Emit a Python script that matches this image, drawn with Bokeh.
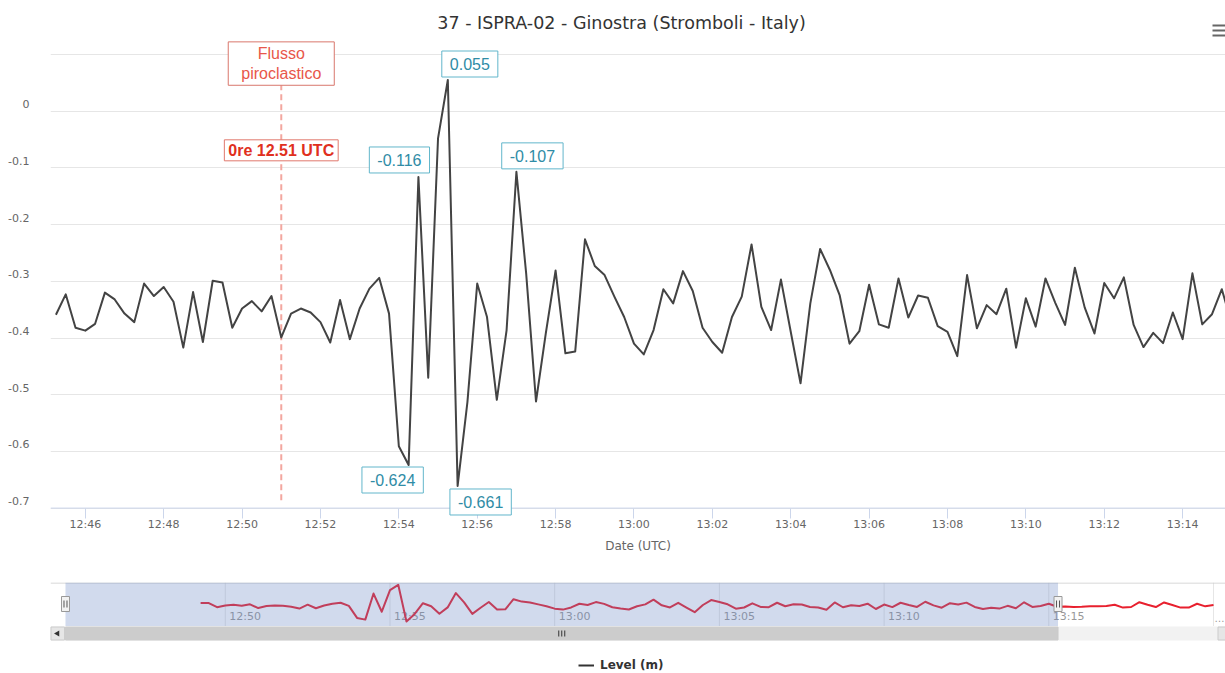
import math
import pandas as pd
from bokeh.plotting import figure
from bokeh.layouts import column
from bokeh.models import (Range1d, LinearAxis, FixedTicker, DatetimeTickFormatter,
                          Label, BoxAnnotation, Legend, LegendItem, Span)
from bokeh.core.properties import value
from bokeh.embed import file_html
from bokeh.resources import INLINE

# ---------------- data ----------------
DAY = "2022-10-09"
series_start = "12:45:15"
step_seconds = 15
level_m = [
    -0.359, -0.323, -0.382, -0.387, -0.375, -0.320, -0.332, -0.357, -0.372, -0.304,
    -0.326, -0.310, -0.336, -0.417, -0.319, -0.407, -0.299, -0.302, -0.382, -0.348,
    -0.335, -0.353, -0.326, -0.399, -0.357, -0.348, -0.355, -0.372, -0.408, -0.333,
    -0.402, -0.348, -0.313, -0.294, -0.357, -0.591, -0.624, -0.116, -0.470, -0.048,
    0.055, -0.661, -0.513, -0.304, -0.363, -0.509, -0.386, -0.107, -0.287, -0.512,
    -0.392, -0.281, -0.427, -0.424, -0.226, -0.273, -0.289, -0.327, -0.363, -0.410,
    -0.429, -0.386, -0.314, -0.339, -0.282, -0.317, -0.382, -0.407, -0.426, -0.363,
    -0.327, -0.235, -0.345, -0.386, -0.297, -0.389, -0.480, -0.339, -0.243, -0.280,
    -0.325, -0.410, -0.388, -0.306, -0.376, -0.382, -0.295, -0.364, -0.325, -0.329,
    -0.379, -0.389, -0.432, -0.289, -0.383, -0.342, -0.358, -0.313, -0.417, -0.330,
    -0.380, -0.295, -0.338, -0.377, -0.276, -0.346, -0.392, -0.303, -0.330, -0.293,
    -0.377, -0.416, -0.391, -0.409, -0.355, -0.402, -0.286, -0.376, -0.358, -0.314,
    -0.374,
]
nav_series_start = "12:49:15"
nav_extra_level_m = [
    -0.370, -0.378, -0.375, -0.365, -0.365, -0.359, -0.334, -0.390, -0.378, -0.285,
    -0.334, -0.378, -0.290, -0.340, -0.390, -0.390, -0.315, -0.365, -0.340,
]
labelled_idx = [36, 37, 40, 41, 47]
event_time = "12:51:00"
event_title = "Flusso\npiroclastico"
event_caption = "0re 12.51 UTC"
x_tick_labels = ["12:46", "12:48", "12:50", "12:52", "12:54", "12:56", "12:58", "13:00",
                 "13:02", "13:04", "13:06", "13:08", "13:10", "13:12", "13:14"]
y_tick_values = [-0.7, -0.6, -0.5, -0.4, -0.3, -0.2, -0.1, 0.0]
y_tick_labels = ["-0.7", "-0.6", "-0.5", "-0.4", "-0.3", "-0.2", "-0.1", "0"]
y_grid_values = [-0.7, -0.6, -0.5, -0.4, -0.3, -0.2, -0.1, 0.0, 0.1]
nav_tick_times = ["12:50", "12:55", "13:00", "13:05", "13:10", "13:15", "13:20"]
nav_tick_labels = ["12:50", "12:55", "13:00", "13:05", "13:10", "13:15", "\u2026"]
chart_title = "37 - ISPRA-02 - Ginostra (Stromboli - Italy)"
x_title = "Date (UTC)"
series_name = "Level (m)"


def ts(hms):
    return pd.Timestamp(f"{DAY} {hms}")


def ms(t):
    return t.value / 1e6


t0 = ts(series_start)
t_ms = [ms(t0 + pd.Timedelta(seconds=step_seconds * i)) for i in range(len(level_m))]
k = t_ms.index(ms(ts(nav_series_start)))
nav_x = t_ms[k:] + [t_ms[-1] + 1000 * step_seconds * (j + 1) for j in range(len(nav_extra_level_m))]
nav_y = level_m[k:] + nav_extra_level_m

# ---------------- main chart ----------------
W = 1225
FL = 50                        # frame left (page px)
FRAME_W = W - FL
FRAME_B = 518                  # frame bottom (page px)
Y_PPU = 567.0                  # px per unit on the main y axis
Y_TOP = 0.1 + 54 / Y_PPU       # value at page y = 0
Y_BOT = Y_TOP - FRAME_B / Y_PPU
FONT = "DejaVu Sans"
LFONT = "Liberation Sans"

main_x0 = ms(ts("12:45:06.7"))
main_ms_px = 60000 / 39.19
main_x1 = main_x0 + FRAME_W * main_ms_px


def mx(px):
    return main_x0 + (px - FL) * main_ms_px


def my(py):
    return Y_TOP - py / Y_PPU


p = figure(width=W, height=560, x_axis_type="datetime",
           x_range=Range1d(main_x0, main_x1), y_range=Range1d(Y_BOT, Y_TOP),
           y_axis_location=None, output_backend="svg", toolbar_location=None,
           min_border_left=FL, min_border_right=0, min_border_top=0,
           min_border_bottom=560 - FRAME_B)
p.outline_line_color = None
p.background_fill_color = "white"
p.border_fill_color = "white"
p.xgrid.visible = False
p.ygrid.ticker = FixedTicker(ticks=y_grid_values)
p.ygrid.grid_line_color = "#e6e6e6"
p.ygrid.grid_line_width = 1

d = 7 / Y_PPU
p.extra_y_ranges = {"lab": Range1d(Y_BOT - d, Y_TOP - d)}
yax = LinearAxis(y_range_name="lab", ticker=FixedTicker(ticks=y_tick_values),
                 major_label_overrides=dict(zip(y_tick_values, y_tick_labels)),
                 major_tick_line_color=None, minor_tick_line_color=None,
                 axis_line_color=None, major_label_standoff=15,
                 major_label_text_font=FONT, major_label_text_font_size="11px",
                 major_label_text_color="#666666")
p.add_layout(yax, "left")

xa = p.xaxis[0]
xa.ticker = FixedTicker(ticks=[ms(ts(s)) for s in x_tick_labels])
xa.formatter = DatetimeTickFormatter(minutes="%H:%M", hourmin="%H:%M", hours="%H:%M",
                                     minsec="%H:%M", seconds="%H:%M")
xa.major_tick_out = 0
xa.major_tick_in = 10
xa.minor_tick_line_color = None
xa.axis_line_color = None
xa.major_tick_line_color = "#ccd6eb"
xa.major_label_standoff = -1
xa.major_label_text_font = FONT
xa.major_label_text_font_size = "11px"
xa.major_label_text_color = "#666666"
xa.axis_label = x_title
xa.axis_label_text_font = FONT
xa.axis_label_text_font_size = "12px"
xa.axis_label_text_font_style = "normal"
xa.axis_label_text_color = "#666666"
xa.axis_label_standoff = 5
p.add_layout(Span(location=-0.7, dimension="width", line_color="#ccd6eb", line_width=1))

# title and menu icon
p.add_layout(Label(x=mx(621), y=my(22), text=chart_title, text_align="center",
                   text_baseline="middle", text_font=FONT, text_font_size="17.5px",
                   text_color="#333333"))
p.segment(x0=[mx(1212)] * 3, x1=[mx(1226)] * 3, y0=[my(25), my(30), my(35)],
          y1=[my(25), my(30), my(35)], line_color="#666666", line_width=2)

ev = ms(ts(event_time))
p.segment(x0=[ev], y0=[-0.686], x1=[ev], y1=[0.06], line_color="#f3a79f",
          line_width=2, line_dash="6 4")

p.line(x=t_ms, y=level_m, line_color="#434343", line_width=2, line_join="round")

p.add_layout(Label(x=ev, y=0.084, text=event_title, text_align="center", text_baseline="middle",
                   text_font=LFONT, text_font_size="16px", text_color="#e8574a",
                   background_fill_color="white", border_line_color="#d9776c", border_line_width=1,
                   padding=dict(x=13, y=3)))
p.add_layout(Label(x=ev, y=-0.069, text=event_caption, text_align="center", text_baseline="middle",
                   text_font=LFONT, text_font_size="16px", text_font_style="bold", text_color="#e0301e",
                   background_fill_color="white", border_line_color="#e0786c", border_line_width=1,
                   padding=dict(x=4, y=2)))

offsets = {36: (-16, -15), 37: (-19, 17), 40: (22, 16), 41: (23, -16), 47: (16, 16)}
for i in labelled_idx:
    dx, dy = offsets[i]
    p.add_layout(Label(x=t_ms[i], y=level_m[i], x_offset=dx, y_offset=dy,
                       text=f"{level_m[i]:.3f}", text_align="center", text_baseline="middle",
                       text_font=LFONT, text_font_size="16px", text_color="#2f8ca6",
                       background_fill_color="white", border_line_color="#62b6cb",
                       border_line_width=1, padding=dict(x=8, y=7)))

# ---------------- navigator ----------------
NAV_H = 113
NAV_TOP = 22
NAV_FRAME_H = NAV_H - NAV_TOP
nav_ppm = 32.94                               # px per minute
nav_x0 = ms(ts("12:44:41.6"))
px_ms = 60000 / nav_ppm
nav_x1 = nav_x0 + FRAME_W * px_ms
mask_l, mask_r = ms(ts("12:45:08.9")), ms(ts("13:15:16.8"))
nav_top, nav_ppu = 0.100, 51.26

nav = figure(width=W, height=NAV_H, x_axis_type="datetime",
             x_range=Range1d(nav_x0, nav_x1),
             y_range=Range1d(nav_top - NAV_FRAME_H / nav_ppu, nav_top),
             x_axis_location=None, y_axis_location=None,
             output_backend="svg", toolbar_location=None,
             min_border_left=FL, min_border_right=0, min_border_top=NAV_TOP, min_border_bottom=0)
nav.extra_y_ranges = {"px": Range1d(NAV_FRAME_H, 0)}
nav.outline_line_color = None
nav.xgrid.visible = False
nav.ygrid.visible = False

nt = [ms(ts(s)) for s in nav_tick_times]
nav.segment(x0=nt, x1=nt, y0=[0] * len(nt), y1=[43.5] * len(nt), y_range_name="px",
            line_color="#e6e6e6", line_width=1)
nav.text(x=nt[:-1], y=[34] * (len(nt) - 1), text=nav_tick_labels[:-1], y_range_name="px",
         x_offset=4, text_align="left", text_baseline="middle", text_font=value(FONT),
         text_font_size="11px", text_color="#999999")
nav.text(x=nt[-1:], y=[36], text=nav_tick_labels[-1:], y_range_name="px",
         x_offset=1, text_align="left", text_baseline="middle", text_font=value(FONT),
         text_font_size="10px", text_color="#999999")
nav.line(x=nav_x, y=nav_y, line_color="#e8202e", line_width=2, line_join="round")
nav.segment(x0=[nav_x0], x1=[nav_x1], y0=[0.5], y1=[0.5], y_range_name="px",
            line_color="#cccccc", line_width=1)
nav.add_layout(BoxAnnotation(left=mask_l, right=mask_r, top=0, bottom=43.5, y_range_name="px",
                             fill_color="#6685c2", fill_alpha=0.3, line_color=None))

# scrollbar
nav.quad(left=[nav_x0], right=[nav_x1], top=[44], bottom=[58], y_range_name="px",
         fill_color="#f2f2f2", line_color=None, level="overlay")
nav.quad(left=[mask_l], right=[mask_r], top=[44.5], bottom=[57.5], y_range_name="px",
         fill_color="#cccccc", line_color="#cccccc", level="overlay")
nav.quad(left=[nav_x0 + 0.5 * px_ms, nav_x1 - 7.5 * px_ms],
         right=[nav_x0 + 14 * px_ms, nav_x1 + 7 * px_ms], top=[44.5, 44.5], bottom=[57.5, 57.5],
         y_range_name="px", fill_color="#e6e6e6", line_color="#cccccc", level="overlay")
nav.scatter(x=[nav_x0 + 7 * px_ms], y=[51], marker="triangle", size=6, angle=math.pi / 2,
            fill_color="#333333", line_color=None, y_range_name="px", level="overlay")
c = (mask_l + mask_r) / 2
nav.rect(x=[c - 3 * px_ms, c, c + 3 * px_ms], y=[51] * 3, width=1, height=6,
         width_units="screen", height_units="screen", fill_color="#333333", line_color=None,
         y_range_name="px", level="overlay")
# handles
nav.rect(x=[mask_l, mask_r], y=[21.5, 21.5], width=8, height=15, width_units="screen",
         height_units="screen", fill_color="#f2f2f2", line_color="#999999",
         y_range_name="px", level="overlay")
gx = [mask_l - 1.5 * px_ms, mask_l + 1.5 * px_ms, mask_r - 1.5 * px_ms, mask_r + 1.5 * px_ms]
nav.rect(x=gx, y=[21.5] * 4, width=1, height=7, width_units="screen", height_units="screen",
         fill_color="#555555", line_color=None, y_range_name="px", level="overlay")

# legend (swatch line kept outside the visible range)
r_leg = nav.line(x=[nav_x0 - 60000, nav_x0 - 30000], y=[0, 0], line_color="#333333", line_width=2)
leg = Legend(items=[LegendItem(label=series_name, renderers=[r_leg])], location=(528, 0),
             orientation="horizontal", glyph_width=16, glyph_height=16, label_height=16,
             label_standoff=6, padding=0, margin=0, spacing=0, border_line_color=None,
             background_fill_alpha=0, label_text_font=FONT, label_text_font_style="bold",
             label_text_font_size="12px", label_text_color="#333333")
nav.add_layout(leg)

layout = column(p, nav, spacing=0)
open("out.html", "w").write(file_html(layout, INLINE))
